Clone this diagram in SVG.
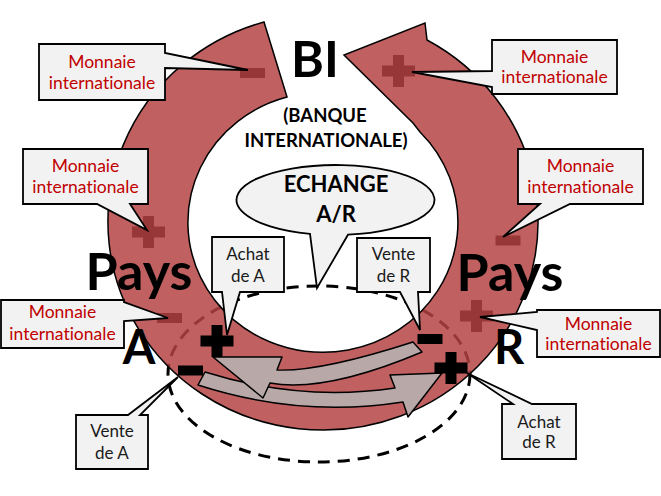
<svg xmlns="http://www.w3.org/2000/svg" width="661" height="496" viewBox="0 0 661 496">
<defs>
<style>
text{font-variant-ligatures:none;font-feature-settings:"liga" 0,"dlig" 0}
.ring{fill:#B44242;fill-opacity:0.84;stroke:#000;stroke-width:1.5}
.garrow{fill:#B8A8A8;stroke:#000;stroke-width:1.5;stroke-linejoin:round}
.call{fill:#F2F2F2;stroke:#000;stroke-width:1.8}
.mi{font-family:Lato,"Liberation Sans",sans-serif;font-size:17.5px;fill:#C00000;text-anchor:middle}
.lab{font-family:Lato,"Liberation Sans",sans-serif;font-size:17px;fill:#1a1a1a;text-anchor:middle}
.big{font-family:Lato,"Liberation Sans",sans-serif;font-weight:bold;fill:#000;text-anchor:middle}
.dash{fill:none;stroke:#000;stroke-width:3;stroke-dasharray:12 8}
</style>
<path id="plus" d="M-16.5,-5.5 H-5.5 V-16 H5.5 V-5.5 H16.5 V5.5 H5.5 V16 H-5.5 V5.5 H-16.5 Z"/>
<path id="minus" d="M-12.5,-5 h25 v10 h-25 z"/>
</defs>
<g id="ring-signs" fill="#000">
<use href="#minus" x="252.5" y="73"/>
<use href="#plus" x="398.5" y="71"/>
<use href="#plus" x="148.5" y="232"/>
<use href="#minus" x="508" y="240.5"/>
<use href="#minus" x="169.5" y="318"/>
<use href="#plus" x="476.5" y="316"/>
</g>
<g id="connectors">
<ellipse class="dash" cx="319" cy="374" rx="151" ry="88"/>
</g>
<g id="ring">
<path class="ring" d="M427,40 A215,208 0 1 1 264,22 L287,97 A135,130 0 1 0 420,132 L413,123 L344,55 L425,23 Z"/>
</g>
<g id="exchange-arrows">
<path class="garrow" d="M205,372 Q300,402 395,388 L390,375 L442,373 L408,417 L403,402 Q300,418 198,385 Z"/>
<path class="garrow" d="M213,357 L282,357 L277,370 Q320,372 413,342 L422,352 Q325,393 270,383 L263,398 Z"/>
</g>
<g id="black-signs" fill="#000">
<use href="#plus" x="217" y="341"/>
<use href="#plus" x="451" y="368"/>
<use href="#minus" x="190.5" y="370.5"/>
<use href="#minus" x="430" y="339"/>
</g>
<g id="titles">
<text class="big" x="315" y="77" font-size="50">BI</text>
<text class="big" x="325" y="122" font-size="18.5">(BANQUE</text>
<text class="big" x="326" y="147" font-size="18.5">INTERNATIONALE)</text>
<text class="big" x="139" y="290" font-size="52">Pays</text>
<text class="big" x="139" y="364" font-size="47">A</text>
<text class="big" x="510" y="291" font-size="52">Pays</text>
<text class="big" x="509" y="364" font-size="47">R</text>
</g>
<g id="echange">
<path class="call" d="M310,233.8 A99,35 0 1 1 348,234.7 L317,288 Z"/>
<text class="big" x="336" y="192" font-size="22">ECHANGE</text>
<text class="big" x="336" y="222" font-size="22">A/R</text>
</g>
<g id="mi-1">
<path class="call" d="M39,44 H165 V53 L248,70 L165,68 V100 H39 Z"/>
<text class="mi" x="102" y="68">Monnaie</text>
<text class="mi" x="102" y="89">internationale</text>
</g>
<g id="mi-2">
<path class="call" d="M492,40 H617 V94 H492 V87 L412,72 L492,71 Z"/>
<text class="mi" x="554.5" y="63">Monnaie</text>
<text class="mi" x="554.5" y="83">internationale</text>
</g>
<g id="mi-3">
<path class="call" d="M23,149 H148 V204 H130 L147,230 L97,204 H23 Z"/>
<text class="mi" x="85.5" y="172">Monnaie</text>
<text class="mi" x="85.5" y="193">internationale</text>
</g>
<g id="mi-4">
<path class="call" d="M518,149 H643 V204 H570 L503,237 L540,204 H518 Z"/>
<text class="mi" x="580.5" y="172">Monnaie</text>
<text class="mi" x="580.5" y="193">internationale</text>
</g>
<g id="mi-5">
<path class="call" d="M1,300 H124 V302 L168,318 L124,321 V348 H1 Z"/>
<text class="mi" x="62.5" y="318">Monnaie</text>
<text class="mi" x="62.5" y="340">internationale</text>
</g>
<g id="mi-6">
<path class="call" d="M537,310 H660 V357 H537 V330 L480,317 L537,312 Z"/>
<text class="mi" x="598.5" y="330">Monnaie</text>
<text class="mi" x="598.5" y="350">internationale</text>
</g>
<g id="achat-a">
<path class="call" d="M212,237 H284 V292 H240 L227,335 L222,292 H212 Z"/>
<text class="lab" x="248" y="260">Achat</text>
<text class="lab" x="248" y="282">de A</text>
</g>
<g id="vente-r">
<path class="call" d="M357,238 H430 V292 H418 L420,330 L400,292 H357 Z"/>
<text class="lab" x="393.5" y="260">Vente</text>
<text class="lab" x="393.5" y="282">de R</text>
</g>
<g id="vente-a">
<path class="call" d="M76,415 H128 L178,377 L140,415 H148 V469 H76 Z"/>
<text class="lab" x="112" y="437">Vente</text>
<text class="lab" x="112" y="459">de A</text>
</g>
<g id="achat-r">
<path class="call" d="M502,404 H513 L467,373 L532,404 H576 V459 H502 Z"/>
<text class="lab" x="539" y="428">Achat</text>
<text class="lab" x="539" y="448">de R</text>
</g>
</svg>
